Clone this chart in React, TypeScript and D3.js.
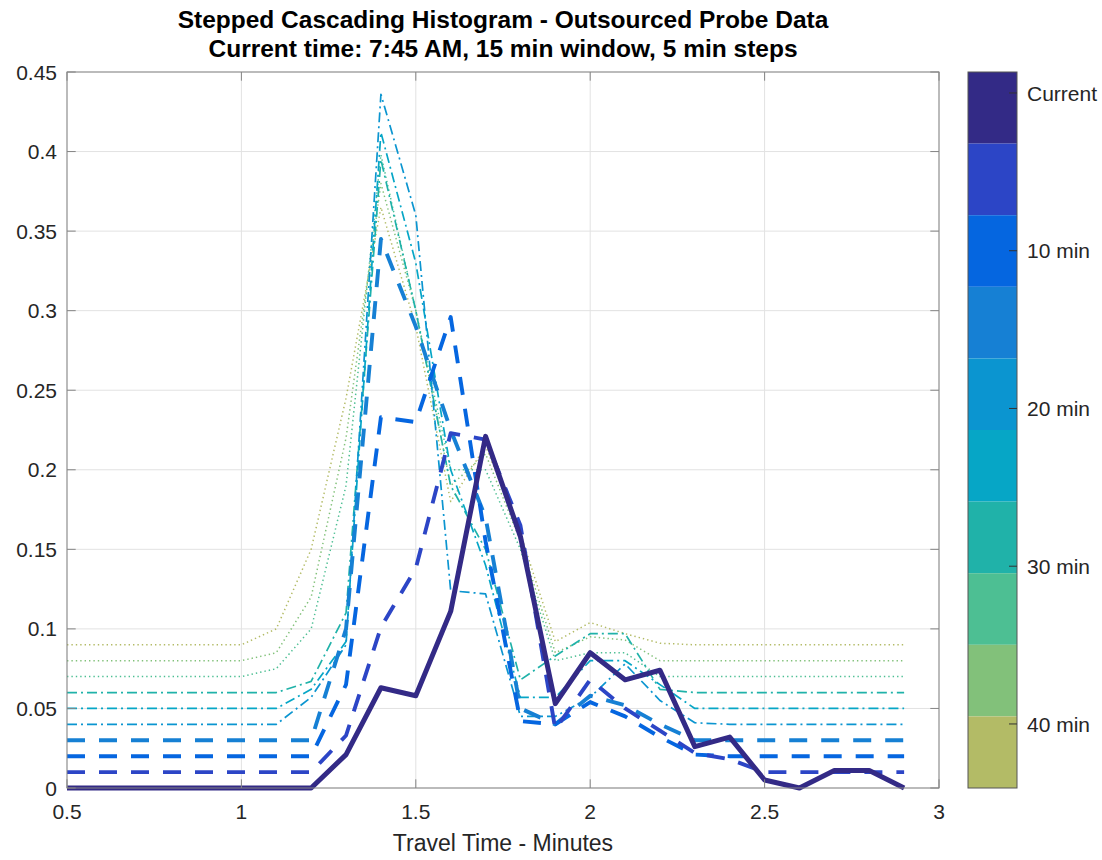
import React from 'react';
import * as d3 from 'd3';

// ---------- DATA ----------
const travelTimes = [0.5, 0.6, 0.7, 0.8, 0.9, 1.0, 1.1, 1.2, 1.3, 1.4, 1.5, 1.6, 1.7, 1.8, 1.9, 2.0, 2.1, 2.2, 2.3, 2.4, 2.5, 2.6, 2.7, 2.8, 2.9];

const seriesNames = ['Current', '5 min', '10 min', '15 min', '20 min', '25 min', '30 min', '35 min', '40 min', '45 min'];

const currentVals = [0, 0, 0, 0, 0, 0, 0, 0, 0.021, 0.063, 0.058, 0.111, 0.221, 0.158, 0.053, 0.085, 0.068, 0.074, 0.026, 0.032, 0.005, 0, 0.011, 0.011, 0];
const min5Vals = [0.01, 0.01, 0.01, 0.01, 0.01, 0.01, 0.01, 0.01, 0.033, 0.101, 0.138, 0.223, 0.219, 0.165, 0.037, 0.068, 0.05, 0.036, 0.022, 0.018, 0.01, 0.01, 0.01, 0.01, 0.01];
const min10Vals = [0.02, 0.02, 0.02, 0.02, 0.02, 0.02, 0.02, 0.02, 0.065, 0.233, 0.23, 0.296, 0.155, 0.042, 0.04, 0.054, 0.045, 0.032, 0.021, 0.02, 0.02, 0.02, 0.02, 0.02, 0.02];
const min15Vals = [0.03, 0.03, 0.03, 0.03, 0.03, 0.03, 0.03, 0.03, 0.1, 0.345, 0.29, 0.225, 0.17, 0.05, 0.04, 0.058, 0.052, 0.04, 0.03, 0.03, 0.03, 0.03, 0.03, 0.03, 0.03];
const min20Vals = [0.04, 0.04, 0.04, 0.04, 0.04, 0.04, 0.04, 0.057, 0.09, 0.436, 0.36, 0.124, 0.122, 0.045, 0.045, 0.057, 0.078, 0.055, 0.041, 0.04, 0.04, 0.04, 0.04, 0.04, 0.04];
const min25Vals = [0.05, 0.05, 0.05, 0.05, 0.05, 0.05, 0.05, 0.062, 0.092, 0.412, 0.33, 0.2, 0.14, 0.057, 0.057, 0.08, 0.08, 0.065, 0.05, 0.05, 0.05, 0.05, 0.05, 0.05, 0.05];
const min30Vals = [0.06, 0.06, 0.06, 0.06, 0.06, 0.06, 0.06, 0.067, 0.11, 0.395, 0.3, 0.19, 0.15, 0.068, 0.083, 0.097, 0.097, 0.062, 0.06, 0.06, 0.06, 0.06, 0.06, 0.06, 0.06];
const min35Vals = [0.07, 0.07, 0.07, 0.07, 0.07, 0.07, 0.075, 0.1, 0.19, 0.398, 0.3, 0.2, 0.2, 0.15, 0.08, 0.085, 0.085, 0.07, 0.07, 0.07, 0.07, 0.07, 0.07, 0.07, 0.07];
const min40Vals = [0.08, 0.08, 0.08, 0.08, 0.08, 0.08, 0.085, 0.12, 0.22, 0.38, 0.3, 0.19, 0.21, 0.155, 0.085, 0.095, 0.093, 0.08, 0.08, 0.08, 0.08, 0.08, 0.08, 0.08, 0.08];
const min45Vals = [0.09, 0.09, 0.09, 0.09, 0.09, 0.09, 0.1, 0.15, 0.245, 0.365, 0.29, 0.18, 0.215, 0.16, 0.092, 0.104, 0.097, 0.091, 0.09, 0.09, 0.09, 0.09, 0.09, 0.09, 0.09];

const seriesValues = [currentVals, min5Vals, min10Vals, min15Vals, min20Vals, min25Vals, min30Vals, min35Vals, min40Vals, min45Vals];

const seriesColors = ['#332a86', '#2c45c6', '#0566e0', '#1680d4', '#0b95d0', '#06a6c6', '#20b2a9', '#4dbf93', '#82c17a', '#b3bb66'];

const xTicks = [0.5, 1, 1.5, 2, 2.5, 3];
const yTicks = [0, 0.05, 0.1, 0.15, 0.2, 0.25, 0.3, 0.35, 0.4, 0.45];
const colorbarTickValues = [0, 10, 20, 30, 40];
const colorbarTickLabels = ['Current', '10 min', '20 min', '30 min', '40 min'];

const titleLines = ['Stepped Cascading Histogram - Outsourced Probe Data', 'Current time: 7:45 AM, 15 min window, 5 min steps'];
const xAxisLabel = 'Travel Time - Minutes';

// ---------- LAYOUT ----------
const W = 1102;
const H = 860;
const plot = { left: 67, right: 939, top: 72, bottom: 788 };
const cbar = { left: 968, right: 1017, top: 72, bottom: 788 };
const FONT = '"Liberation Sans", Arial, Helvetica, sans-serif';
const TXT = '#262626';
const AXC = '#858585';

function styleFor(i: number) {
  if (i === 0) return { width: 5, dash: null as string | null };
  if (i <= 3) return { width: 3.9, dash: '18,14' };
  if (i <= 6) return { width: 1.7, dash: '10,4,2,4' };
  return { width: 1.5, dash: '1.4,3' };
}

export default function App() {
  const x = d3.scaleLinear().domain([0.5, 3]).range([plot.left, plot.right]);
  const y = d3.scaleLinear().domain([0, 0.45]).range([plot.bottom, plot.top]);
  const line = d3
    .line<number>()
    .x((_, i) => x(travelTimes[i]))
    .y((d) => y(d));

  const cbBand = d3
    .scaleBand<number>()
    .domain(seriesNames.map((_, i) => i))
    .range([cbar.top, cbar.bottom])
    .padding(0);
  const cbScale = d3.scaleLinear().domain([-1.33, 44.06]).range([cbar.top, cbar.bottom]);

  const tickLen = 8.7;
  const fmt = (v: number) => String(+v.toFixed(4));

  const order = seriesValues.map((_, i) => i).reverse();

  return (
    <svg
      width={W}
      height={H}
      style={{ position: 'absolute', left: 0, top: 0, background: '#fff' }}
      fontFamily={FONT}
    >
      <rect x={0} y={0} width={W} height={H} fill="#fff" />
      {/* grid */}
      <g>
        {xTicks.map((t) => (
          <line key={'gx' + t} x1={x(t)} x2={x(t)} y1={plot.top} y2={plot.bottom} stroke="#e2e2e2" strokeWidth={1} />
        ))}
        {yTicks.map((t) => (
          <line key={'gy' + t} x1={plot.left} x2={plot.right} y1={y(t)} y2={y(t)} stroke="#e2e2e2" strokeWidth={1} />
        ))}
      </g>
      {/* series */}
      <g fill="none" strokeLinejoin="round">
        {order.map((i) => {
          const s = styleFor(i);
          return (
            <path
              key={seriesNames[i]}
              d={line(seriesValues[i]) || ''}
              stroke={seriesColors[i]}
              strokeWidth={s.width}
              strokeDasharray={s.dash || undefined}
              strokeLinecap="butt"
            />
          );
        })}
      </g>
      {/* axes box + ticks */}
      <g stroke={AXC} strokeWidth={1}>
        <rect x={plot.left} y={plot.top} width={plot.right - plot.left} height={plot.bottom - plot.top} fill="none" />
        {xTicks.map((t) => (
          <g key={'tx' + t}>
            <line x1={x(t)} x2={x(t)} y1={plot.bottom} y2={plot.bottom - tickLen} />
            <line x1={x(t)} x2={x(t)} y1={plot.top} y2={plot.top + tickLen} />
          </g>
        ))}
        {yTicks.map((t) => (
          <g key={'ty' + t}>
            <line x1={plot.left} x2={plot.left + tickLen} y1={y(t)} y2={y(t)} />
            <line x1={plot.right} x2={plot.right - tickLen} y1={y(t)} y2={y(t)} />
          </g>
        ))}
      </g>
      {/* tick labels */}
      <g fill={TXT} fontSize={21}>
        {xTicks.map((t) => (
          <text key={'lx' + t} x={x(t)} y={plot.bottom + 31} textAnchor="middle">
            {fmt(t)}
          </text>
        ))}
        {yTicks.map((t) => (
          <text key={'ly' + t} x={plot.left - 10} y={y(t)} dy="0.36em" textAnchor="end">
            {fmt(t)}
          </text>
        ))}
      </g>
      <text x={(plot.left + plot.right) / 2} y={851} textAnchor="middle" fontSize={23} fill={TXT}>
        {xAxisLabel}
      </text>
      {/* title */}
      <g fontWeight="bold" fontSize={24.5} fill="#000" textAnchor="middle">
        {titleLines.map((t, i) => (
          <text key={t} x={(plot.left + plot.right) / 2} y={28 + i * 28.5}>
            {t}
          </text>
        ))}
      </g>
      {/* colorbar */}
      <g>
        {seriesNames.map((n, i) => (
          <rect
            key={'cb' + n}
            x={cbar.left}
            y={cbBand(i)}
            width={cbar.right - cbar.left}
            height={cbBand.bandwidth()}
            fill={seriesColors[i]}
          />
        ))}
        <rect
          x={cbar.left}
          y={cbar.top}
          width={cbar.right - cbar.left}
          height={cbar.bottom - cbar.top}
          fill="none"
          stroke="#555"
          strokeWidth={1}
        />
        {colorbarTickValues.map((v, i) => (
          <g key={'cbt' + v}>
            <line x1={cbar.right - 8} x2={cbar.right} y1={cbScale(v)} y2={cbScale(v)} stroke="#333" strokeWidth={1} />
            <text x={cbar.right + 10} y={cbScale(v)} dy="0.36em" fontSize={21} fill={TXT}>
              {colorbarTickLabels[i]}
            </text>
          </g>
        ))}
      </g>
    </svg>
  );
}
